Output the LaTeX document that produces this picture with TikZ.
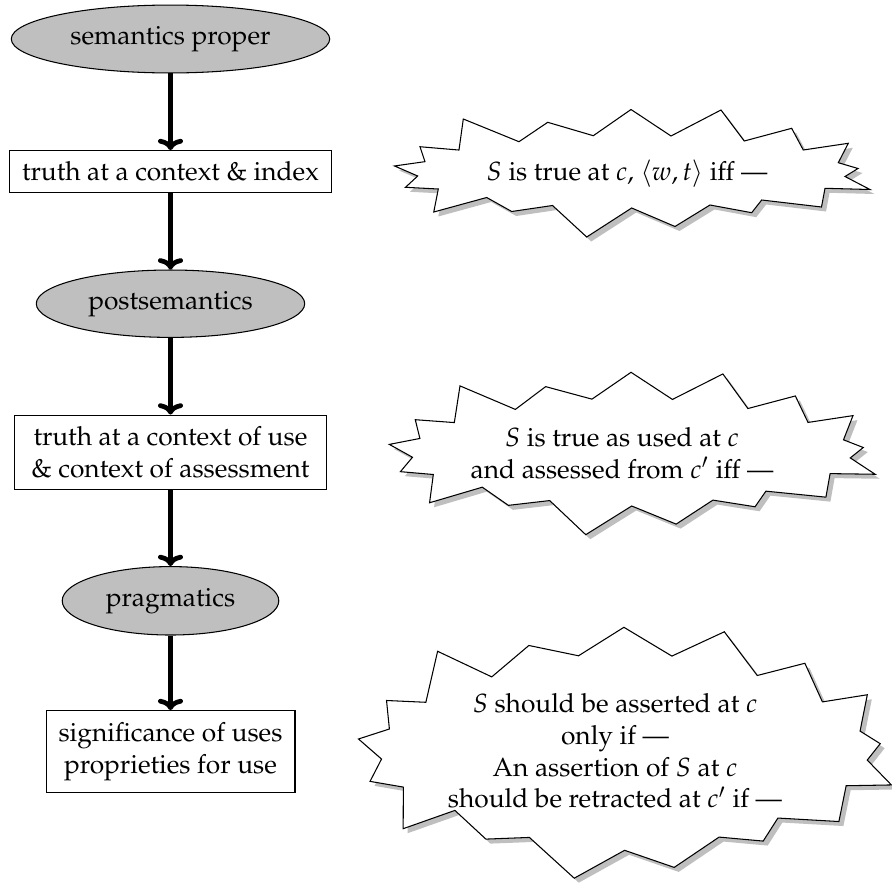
\documentclass[tikz,border=0pt]{standalone}
\usepackage[T1]{fontenc}
\usepackage{mathpazo}
\usetikzlibrary{shapes.geometric,arrows.meta}
\newcommand{\burstdata}{0/0.443, 0.0641/0.409, 0.0536/0.292, 0.1356/0.318, 0.1447/0.0745, 0.2618/0.2525, 0.3222/0.1004, 0.4181/0.2055, 0.4974/0, 0.5815/0.2078, 0.6866/0.0039, 0.7356/0.2471, 0.8353/0.1475, 0.8597/0.3176, 0.9543/0.2651, 0.9333/0.4173, 0.9748/0.4627, 0.9474/0.5255, 1/0.6275, 0.9054/0.618, 0.898/0.7647, 0.7722/0.7098, 0.7512/0.8094, 0.6635/0.749, 0.5899/0.9176, 0.4988/0.7725, 0.4042/1, 0.3323/0.7529, 0.2465/0.8, 0.1939/0.6902, 0.0826/0.8039, 0.0921/0.6235, 0.0231/0.6102, 0.0488/0.5216}
% #1 name, #2 cx, #3 cy, #4 extra half-width, #5 extra half-height
\newcommand{\makeburst}[5]{%
  \foreach \bu/\bv [count=\bi] in \burstdata {
    \pgfmathsetmacro\bxX{2*\bu-1}
    \pgfmathsetmacro\byY{2*\bv-1}
    \pgfmathsetmacro\brR{sqrt(\bxX*\bxX+\byY*\byY)}
    \pgfmathsetmacro\bpx{#2+\bxX*237.75+#4*\bxX/\brR}
    \pgfmathsetmacro\bpy{#3+\byY*63.75+#5*\byY/\brR}
    \coordinate (#1-\bi) at (\bpx,\bpy);
    \coordinate (#1s-\bi) at (\bpx+4.5,\bpy+4.5);
  }
  \fill[burstshadow] (#1s-1) \foreach \bi in {2,...,34}{ -- (#1s-\bi)} -- cycle;
  \filldraw[burstface] (#1-1) \foreach \bi in {2,...,34}{ -- (#1-\bi)} -- cycle;
}
\begin{document}
\begin{tikzpicture}[x=0.38pt,y=-0.38pt,
  oval/.style={ellipse, draw, fill=black!25, inner sep=0pt},
  rbox/.style={rectangle, draw, fill=white, inner sep=0pt, align=center},
  bursttext/.style={align=center, inner sep=0pt},
  burstshadow/.style={fill=black!25},
  burstface/.style={draw, fill=white, line width=0.4pt},
  flow/.style={line width=1.8pt, -{To[length=4.3pt,width=9.5pt]}}]
\useasboundingbox (0,0) rectangle (892,884);
\node[oval, minimum width=121pt, minimum height=25.8pt] (sp) at (170.5,39) {semantics proper};
\node[rbox, minimum width=122.6pt, minimum height=16pt] (t1) at (170.5,171.7) {truth at a context \& index};
\node[oval, minimum width=102pt, minimum height=25.6pt] (ps) at (170.5,303.7) {postsemantics};
\node[rbox, minimum width=118.4pt, minimum height=28.2pt] (t2) at (170.5,452.2) {truth at a context of use\\ \& context of assessment};
\node[oval, minimum width=82.3pt, minimum height=26pt] (pr) at (170.5,600.8) {pragmatics};
\node[rbox, minimum width=94.6pt, minimum height=31.2pt] (t3) at (170.5,751.7) {significance of uses\\ proprieties for use};
\draw[flow] (sp) -- (t1);
\draw[flow] (t1) -- (ps);
\draw[flow] (ps) -- (t2);
\draw[flow] (t2) -- (pr);
\draw[flow] (pr) -- (t3);
\makeburst{ba}{632.25}{173.25}{0}{0}
\node[bursttext] (b1) at (627,174) {$S$ is true at $c$, $\langle w, t\rangle$ iff ---};
\makeburst{bb}{632.3}{453.65}{5.25}{17.6}
\node[bursttext] (b2) at (622,453) {$S$ is true as used at $c$\\ and assessed from $c'$ iff ---};
\makeburst{bc}{625.3}{753.3}{29.25}{62.25}
\node[bursttext] (b3) at (615,751) {$S$ should be asserted at $c$\\ only if ---\\ An assertion of $S$ at $c$\\ should be retracted at $c'$ if ---};
\end{tikzpicture}
\end{document}
